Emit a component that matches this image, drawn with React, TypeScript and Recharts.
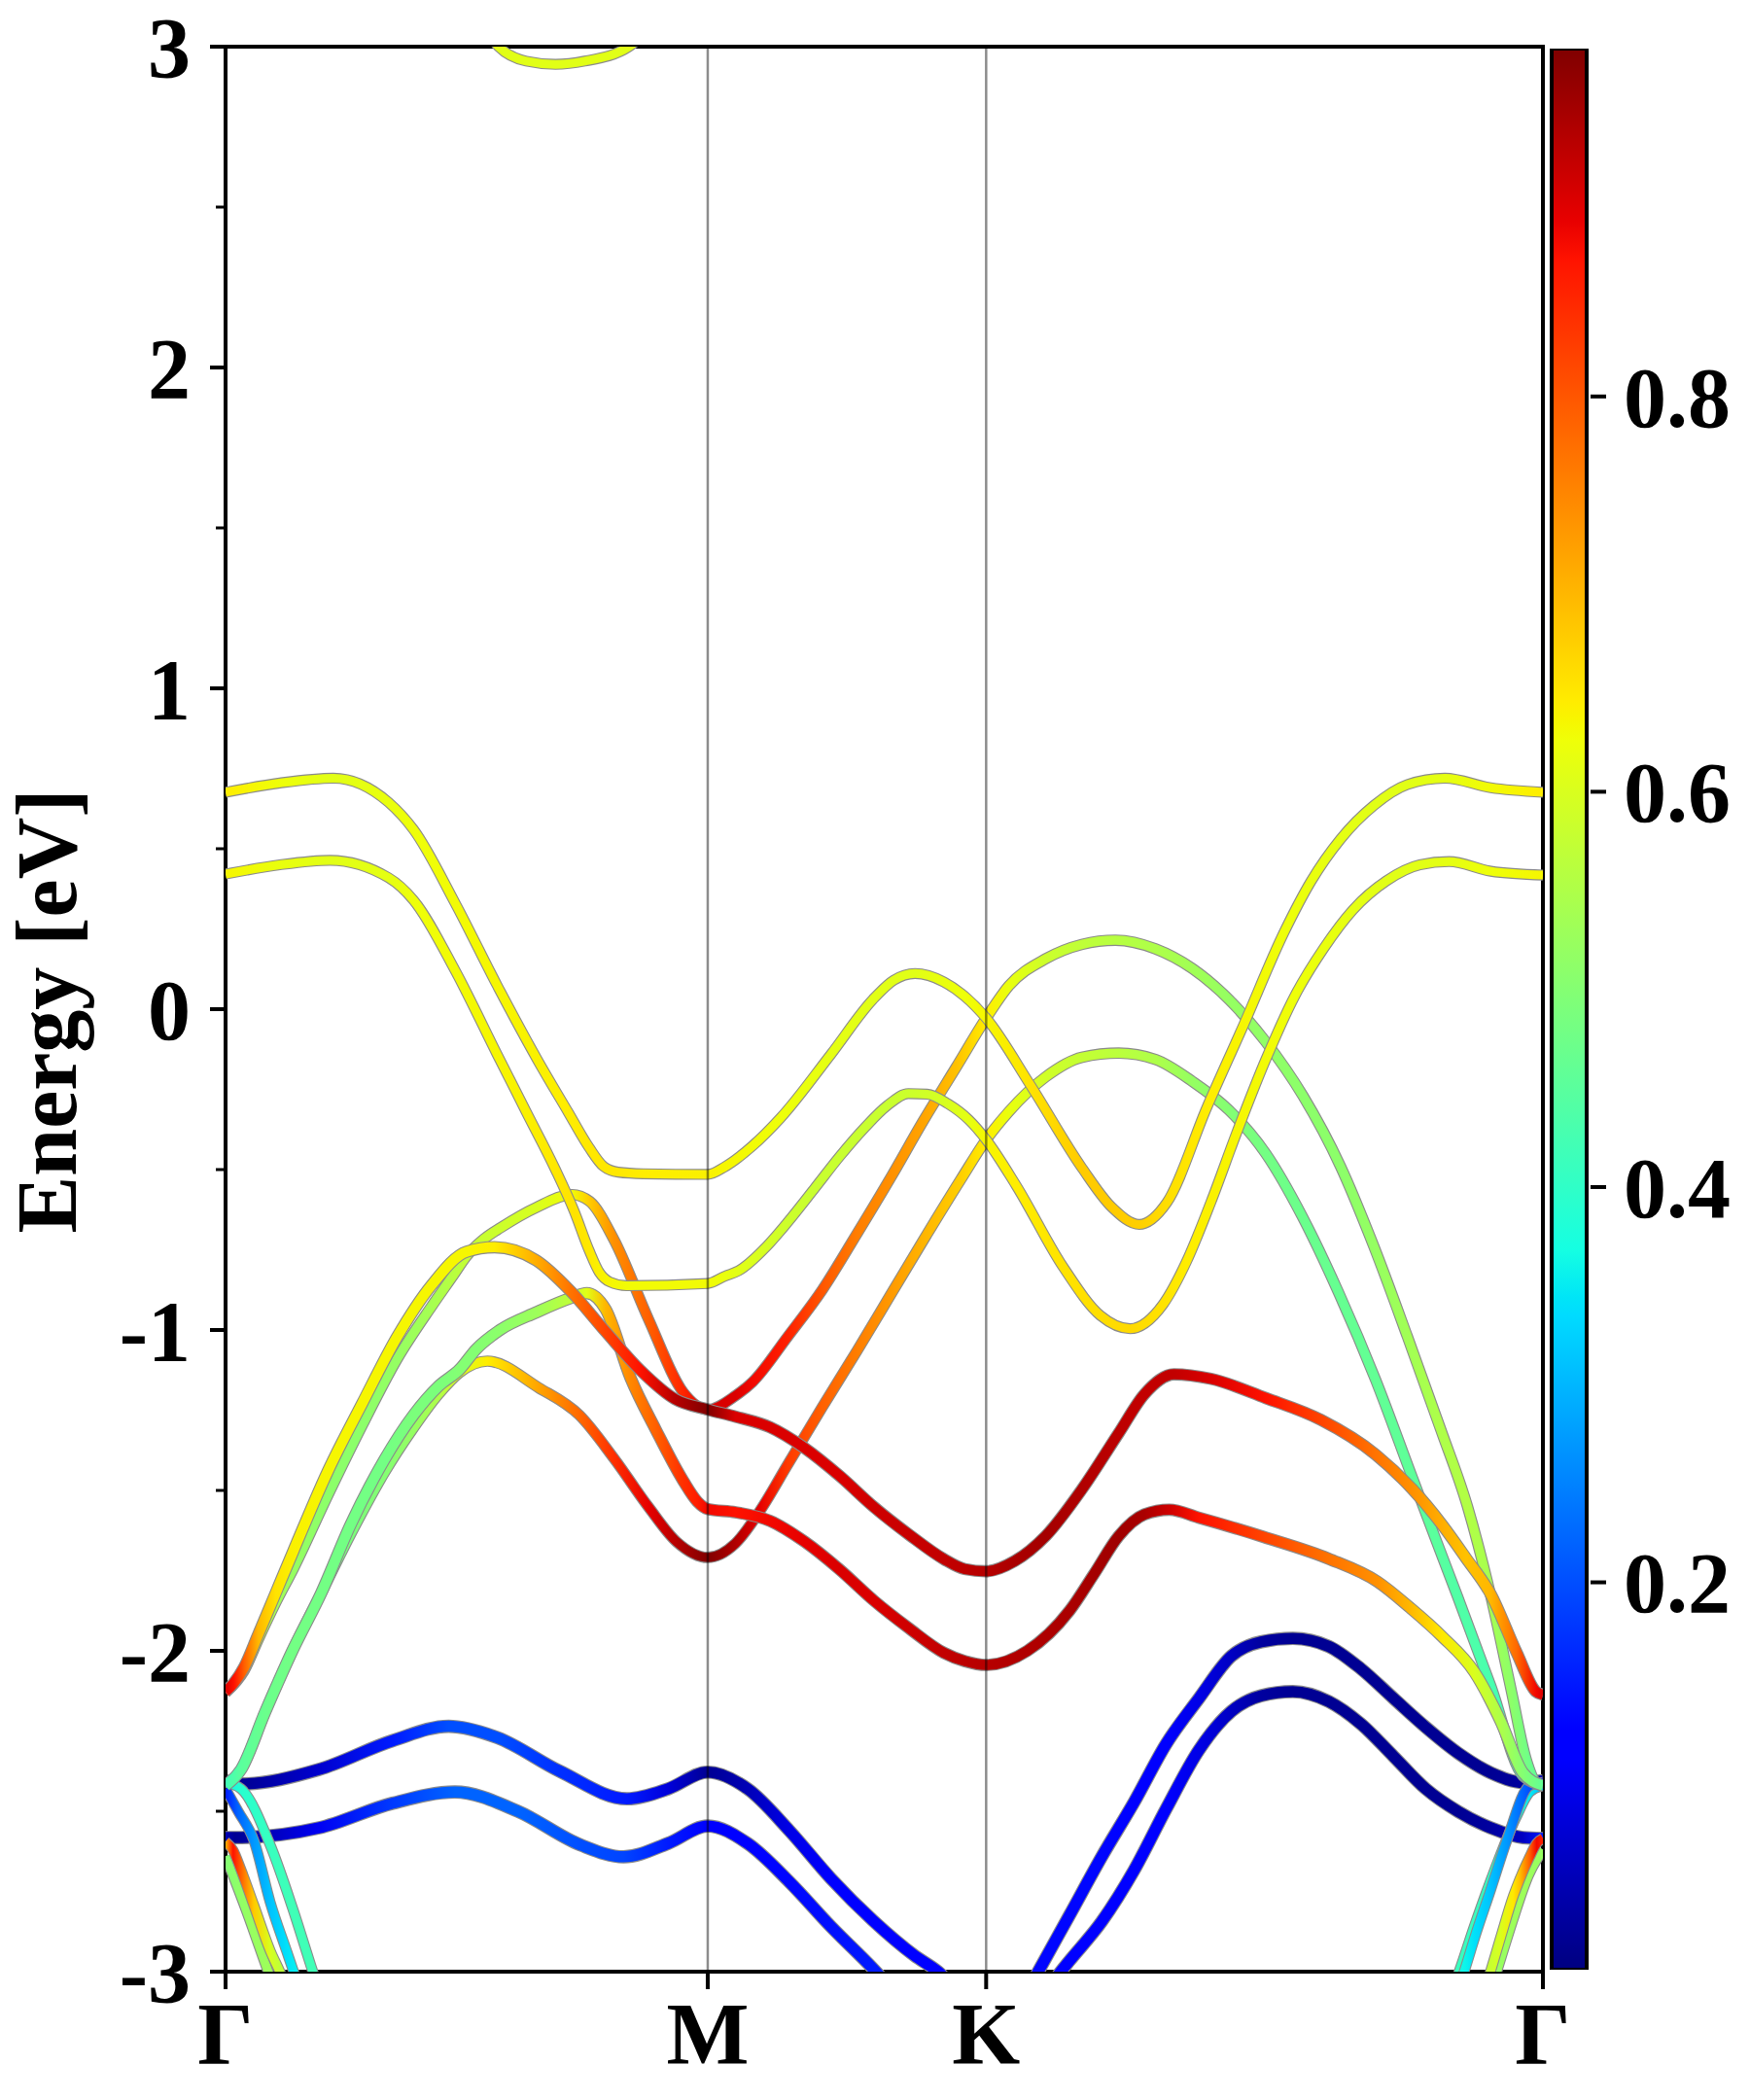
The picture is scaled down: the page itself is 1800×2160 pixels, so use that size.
import React from 'react';
import { LineChart, Line, XAxis, YAxis, ReferenceLine, ReferenceArea, BarChart, Bar } from 'recharts';

// ---------- axes / labels ----------
const K_M = 1.1547;
const K_K = 1.8214;
const K_END = 3.1547;
const xTickValues = [0, K_M, K_K, K_END];
const xTickLabels = ['Γ', 'M', 'K', 'Γ'];
const yTickValues = [-3, -2.5, -2, -1.5, -1, -0.5, 0, 0.5, 1, 1.5, 2, 2.5, 3];
const cbTickValues = [0.2, 0.4, 0.6, 0.8];
const W_MIN = 0.004;
const W_MAX = 0.976;

// ---------- bands: [k, energy (eV), weight] ----------
type Pt = [number, number, number];

const bandU0: Pt[] = [[0.58, 3.15, 0.61], [0.654, 3.0, 0.61], [0.72, 2.955, 0.61], [0.79, 2.945, 0.61], [0.86, 2.955, 0.61], [0.966, 3.0, 0.61], [1.05, 3.12, 0.61]];

const bandC1: Pt[] = [
  [0, 0.676, 0.645], [0.13, 0.705, 0.625], [0.258, 0.72, 0.61], [0.39, 0.645, 0.62], [0.45, 0.56, 0.625], [0.55, 0.33, 0.63], [0.65, 0.075, 0.635], [0.75, -0.165, 0.64], [0.82, -0.32, 0.645], [0.87, -0.43, 0.65], [0.905, -0.49, 0.65], [0.94, -0.508, 0.65], [1.0, -0.513, 0.645], [1.1547, -0.515, 0.64],
  [1.196, -0.491, 0.635], [1.262, -0.426, 0.63], [1.329, -0.339, 0.625], [1.45, -0.14, 0.615], [1.55, 0.03, 0.61], [1.6, 0.09, 0.61], [1.651, 0.111, 0.61], [1.72, 0.085, 0.62], [1.77, 0.04, 0.625], [1.8214, -0.028, 0.635],
  [1.928, -0.238, 0.655], [2.051, -0.495, 0.68], [2.122, -0.617, 0.68], [2.188, -0.671, 0.675], [2.254, -0.603, 0.66], [2.35, -0.306, 0.645], [2.438, -0.049, 0.635], [2.535, 0.24, 0.625], [2.6, 0.4, 0.62], [2.67, 0.53, 0.615], [2.75, 0.635, 0.61], [2.83, 0.7, 0.61], [2.92, 0.72, 0.615], [3.03, 0.69, 0.63], [3.1547, 0.676, 0.645],
];

const bandC2: Pt[] = [
  [0, 0.421, 0.635], [0.13, 0.45, 0.62], [0.25, 0.464, 0.61], [0.39, 0.41, 0.615], [0.45, 0.34, 0.625], [0.55, 0.12, 0.63], [0.65, -0.14, 0.635], [0.72, -0.32, 0.64], [0.79, -0.5, 0.65], [0.835, -0.63, 0.655], [0.87, -0.75, 0.65], [0.895, -0.82, 0.64], [0.92, -0.85, 0.635], [0.96, -0.862, 0.63], [1.1547, -0.855, 0.63],
  [1.196, -0.832, 0.62], [1.229, -0.815, 0.61], [1.296, -0.739, 0.595], [1.346, -0.664, 0.585], [1.412, -0.556, 0.58], [1.47, -0.46, 0.58], [1.53, -0.37, 0.58], [1.585, -0.3, 0.58], [1.635, -0.263, 0.585], [1.68, -0.265, 0.59], [1.73, -0.295, 0.6], [1.78, -0.345, 0.615], [1.8214, -0.407, 0.635],
  [1.893, -0.549, 0.645], [2.007, -0.806, 0.655], [2.095, -0.955, 0.66], [2.166, -0.996, 0.665], [2.245, -0.92, 0.655], [2.3, -0.79, 0.645], [2.36, -0.6, 0.64], [2.42, -0.39, 0.635], [2.49, -0.16, 0.63], [2.56, 0.04, 0.625], [2.63, 0.19, 0.62], [2.7, 0.31, 0.615], [2.78, 0.4, 0.61], [2.86, 0.45, 0.61], [2.93, 0.46, 0.615], [3.03, 0.43, 0.625], [3.1547, 0.418, 0.635],
];

const bandP1: Pt[] = [
  [0, -2.127, 0.9], [0.02, -2.1, 0.87], [0.045, -2.05, 0.79], [0.078, -1.95, 0.7], [0.12, -1.82, 0.655], [0.162, -1.69, 0.64], [0.245, -1.44, 0.635], [0.328, -1.227, 0.635], [0.411, -1.021, 0.635], [0.494, -0.859, 0.635], [0.577, -0.756, 0.635], [0.644, -0.742, 0.645], [0.744, -0.783, 0.71], [0.827, -0.88, 0.77], [0.91, -1.005, 0.82], [0.993, -1.125, 0.87], [1.076, -1.215, 0.93], [1.1547, -1.248, 0.975],
  [1.221, -1.27, 0.9], [1.304, -1.303, 0.9], [1.387, -1.368, 0.9], [1.47, -1.454, 0.9], [1.553, -1.552, 0.91], [1.637, -1.638, 0.915], [1.72, -1.714, 0.92], [1.77, -1.745, 0.925], [1.8214, -1.752, 0.93],
  [1.89, -1.72, 0.94], [1.964, -1.642, 0.945], [2.051, -1.496, 0.935], [2.139, -1.321, 0.925], [2.201, -1.199, 0.92], [2.271, -1.138, 0.92], [2.359, -1.152, 0.9], [2.491, -1.212, 0.87], [2.623, -1.28, 0.82], [2.754, -1.388, 0.77], [2.842, -1.496, 0.74], [2.912, -1.605, 0.71], [2.97, -1.71, 0.69], [3.03, -1.824, 0.7], [3.092, -2.006, 0.78], [3.138, -2.127, 0.88], [3.1547, -2.137, 0.9],
];

const bandP2: Pt[] = [
  [0, -2.13, 0.87], [0.045, -2.06, 0.72], [0.078, -1.965, 0.6], [0.12, -1.85, 0.54], [0.162, -1.745, 0.52], [0.245, -1.515, 0.51], [0.328, -1.295, 0.51], [0.411, -1.09, 0.52], [0.494, -0.925, 0.54], [0.545, -0.83, 0.56], [0.577, -0.77, 0.575], [0.62, -0.715, 0.58], [0.66, -0.68, 0.585], [0.744, -0.618, 0.6], [0.83, -0.578, 0.63], [0.872, -0.599, 0.68], [0.93, -0.718, 0.74], [1.013, -0.967, 0.79], [1.096, -1.194, 0.85], [1.1547, -1.248, 0.9],
  [1.221, -1.205, 0.9], [1.262, -1.162, 0.88], [1.346, -1.021, 0.855], [1.429, -0.875, 0.8], [1.512, -0.7, 0.76], [1.595, -0.52, 0.74], [1.67, -0.35, 0.72], [1.75, -0.18, 0.69], [1.8214, -0.028, 0.645],
  [1.876, 0.073, 0.62], [1.964, 0.157, 0.585], [2.051, 0.202, 0.57], [2.131, 0.215, 0.56], [2.227, 0.188, 0.55], [2.315, 0.127, 0.535], [2.403, 0.03, 0.52], [2.49, -0.1, 0.515], [2.58, -0.27, 0.51], [2.67, -0.49, 0.51], [2.75, -0.74, 0.52], [2.83, -1.02, 0.535], [2.91, -1.31, 0.55], [2.974, -1.55, 0.555], [3.03, -1.83, 0.54], [3.08, -2.13, 0.51], [3.115, -2.34, 0.48], [3.138, -2.41, 0.46], [3.1547, -2.42, 0.45],
];

const bandP3: Pt[] = [
  [0, -2.42, 0.42], [0.037, -2.37, 0.45], [0.095, -2.19, 0.47], [0.16, -2.0, 0.48], [0.229, -1.82, 0.48], [0.3, -1.635, 0.49], [0.38, -1.445, 0.5], [0.45, -1.305, 0.52], [0.51, -1.2, 0.55], [0.561, -1.132, 0.6], [0.627, -1.097, 0.645], [0.75, -1.18, 0.72], [0.847, -1.265, 0.78], [0.93, -1.4, 0.84], [1.013, -1.552, 0.89], [1.08, -1.66, 0.93], [1.1547, -1.709, 0.975],
  [1.221, -1.665, 0.935], [1.279, -1.565, 0.89], [1.346, -1.42, 0.83], [1.429, -1.24, 0.79], [1.512, -1.065, 0.76], [1.595, -0.885, 0.73], [1.678, -0.705, 0.7], [1.761, -0.53, 0.675], [1.8214, -0.407, 0.645],
  [1.876, -0.319, 0.62], [1.964, -0.211, 0.59], [2.051, -0.15, 0.575], [2.139, -0.137, 0.565], [2.227, -0.157, 0.55], [2.315, -0.225, 0.52], [2.403, -0.315, 0.5], [2.491, -0.45, 0.48], [2.578, -0.645, 0.47], [2.666, -0.885, 0.465], [2.754, -1.155, 0.46], [2.842, -1.46, 0.455], [2.895, -1.642, 0.45], [2.95, -1.83, 0.44], [3.03, -2.11, 0.43], [3.107, -2.39, 0.41], [3.1547, -2.42, 0.4],
];

const bandP4: Pt[] = [
  [0, -2.42, 0.42], [0.037, -2.37, 0.45], [0.095, -2.19, 0.47], [0.16, -2.0, 0.48], [0.229, -1.82, 0.48], [0.3, -1.605, 0.48], [0.38, -1.405, 0.48], [0.45, -1.265, 0.49], [0.51, -1.175, 0.49], [0.561, -1.122, 0.5], [0.6, -1.06, 0.5], [0.657, -1.0, 0.51], [0.744, -0.945, 0.53], [0.827, -0.9, 0.57], [0.865, -0.885, 0.61], [0.91, -0.935, 0.7], [0.97, -1.15, 0.75], [1.03, -1.31, 0.79], [1.096, -1.47, 0.84], [1.13, -1.535, 0.86], [1.1547, -1.558, 0.88],
  [1.221, -1.568, 0.87], [1.304, -1.595, 0.88], [1.387, -1.66, 0.89], [1.47, -1.746, 0.9], [1.553, -1.844, 0.9], [1.637, -1.93, 0.91], [1.72, -2.006, 0.92], [1.77, -2.032, 0.925], [1.8214, -2.044, 0.93],
  [1.92, -2.0, 0.935], [2.021, -1.875, 0.94], [2.08, -1.76, 0.945], [2.139, -1.642, 0.95], [2.2, -1.575, 0.94], [2.26, -1.56, 0.91], [2.331, -1.585, 0.87], [2.486, -1.645, 0.82], [2.642, -1.713, 0.77], [2.758, -1.784, 0.74], [2.836, -1.865, 0.7], [2.913, -1.955, 0.65], [2.991, -2.067, 0.6], [3.053, -2.218, 0.55], [3.107, -2.38, 0.5], [3.1547, -2.42, 0.46],
];

const bandBU1: Pt[] = [[0, -2.405, 0.02], [0.037, -2.415, 0.02], [0.223, -2.37, 0.07], [0.4, -2.28, 0.15], [0.534, -2.235, 0.2], [0.65, -2.27, 0.2], [0.8, -2.375, 0.17], [0.961, -2.461, 0.15], [1.06, -2.43, 0.08], [1.1547, -2.378, 0.02], [1.25, -2.43, 0.05], [1.35, -2.56, 0.09], [1.45, -2.71, 0.11], [1.55, -2.84, 0.12], [1.65, -2.95, 0.12], [1.706, -3.0, 0.12], [1.76, -3.07, 0.12]];
const bandBL1: Pt[] = [[0, -2.582, 0.05], [0.022, -2.582, 0.02], [0.223, -2.552, 0.1], [0.4, -2.475, 0.18], [0.549, -2.44, 0.22], [0.7, -2.5, 0.22], [0.85, -2.605, 0.2], [0.953, -2.642, 0.19], [1.06, -2.6, 0.15], [1.1547, -2.546, 0.12], [1.25, -2.6, 0.12], [1.35, -2.72, 0.13], [1.45, -2.86, 0.14], [1.55, -2.99, 0.15], [1.6, -3.06, 0.15]];
const bandBU2: Pt[] = [[1.88, -3.16, 0.13], [1.946, -3.0, 0.13], [2.021, -2.824, 0.13], [2.098, -2.642, 0.13], [2.176, -2.471, 0.12], [2.253, -2.289, 0.11], [2.331, -2.148, 0.09], [2.409, -2.016, 0.06], [2.48, -1.972, 0.03], [2.556, -1.961, 0.02], [2.642, -1.986, 0.02], [2.719, -2.056, 0.02], [2.797, -2.148, 0.02], [2.874, -2.238, 0.02], [2.952, -2.319, 0.02], [3.03, -2.38, 0.02], [3.107, -2.41, 0.03], [3.1547, -2.405, 0.05]];
const bandBL2: Pt[] = [[1.92, -3.15, 0.12], [2.0, -3.0, 0.12], [2.021, -2.966, 0.12], [2.098, -2.844, 0.12], [2.176, -2.683, 0.12], [2.253, -2.491, 0.11], [2.331, -2.309, 0.09], [2.409, -2.188, 0.06], [2.48, -2.14, 0.03], [2.556, -2.127, 0.02], [2.642, -2.158, 0.02], [2.719, -2.228, 0.02], [2.797, -2.329, 0.02], [2.874, -2.43, 0.02], [2.952, -2.501, 0.02], [3.03, -2.552, 0.03], [3.107, -2.582, 0.06], [3.1547, -2.585, 0.15]];

const bandD1: Pt[] = [[0, -2.595, 0.7], [0.018, -2.622, 0.87], [0.037, -2.683, 0.79], [0.068, -2.794, 0.68], [0.107, -2.935, 0.6], [0.13, -3.0, 0.57], [0.17, -3.13, 0.56]];
const bandD2: Pt[] = [[0, -2.64, 0.5], [0.05, -2.81, 0.52], [0.102, -3.0, 0.53], [0.13, -3.1, 0.53]];
const bandD3: Pt[] = [[0, -2.43, 0.15], [0.03, -2.5, 0.22], [0.068, -2.592, 0.27], [0.107, -2.784, 0.31], [0.146, -2.935, 0.34], [0.163, -3.0, 0.35], [0.2, -3.15, 0.36]];
const bandD4: Pt[] = [[0, -2.41, 0.36], [0.037, -2.43, 0.39], [0.109, -2.612, 0.41], [0.16, -2.8, 0.42], [0.209, -3.0, 0.42], [0.24, -3.12, 0.42]];
const bandD1r: Pt[] = [[3.0, -3.12, 0.57], [3.03, -2.996, 0.58], [3.053, -2.895, 0.6], [3.084, -2.764, 0.65], [3.099, -2.713, 0.69], [3.123, -2.642, 0.79], [3.14, -2.6, 0.88], [3.1547, -2.585, 0.85]];
const bandD2r: Pt[] = [[3.015, -3.12, 0.52], [3.045, -2.996, 0.52], [3.08, -2.85, 0.53], [3.12, -2.7, 0.53], [3.1547, -2.62, 0.52]];
const bandD3r: Pt[] = [[2.94, -3.1, 0.37], [2.967, -2.996, 0.36], [2.991, -2.895, 0.34], [3.03, -2.743, 0.31], [3.068, -2.592, 0.27], [3.123, -2.42, 0.2], [3.1547, -2.41, 0.15]];
const bandD4r: Pt[] = [[2.925, -3.1, 0.42], [2.955, -2.996, 0.41], [2.99, -2.86, 0.41], [3.04, -2.68, 0.4], [3.09, -2.52, 0.38], [3.123, -2.44, 0.35], [3.1547, -2.42, 0.3]];

// drawing order and line widths (style)
const bandStyles: { id: string; pts: Pt[]; width: number }[] = [
  { id: 'bu1', pts: bandBU1, width: 11.5 },
  { id: 'bl1', pts: bandBL1, width: 11.5 },
  { id: 'bu2', pts: bandBU2, width: 11.5 },
  { id: 'bl2', pts: bandBL2, width: 11.5 },
  { id: 'd2', pts: bandD2, width: 9 },
  { id: 'd1', pts: bandD1, width: 9 },
  { id: 'd4', pts: bandD4, width: 9 },
  { id: 'd3', pts: bandD3, width: 9 },
  { id: 'd2r', pts: bandD2r, width: 9 },
  { id: 'd1r', pts: bandD1r, width: 9 },
  { id: 'd4r', pts: bandD4r, width: 9 },
  { id: 'd3r', pts: bandD3r, width: 9 },
  { id: 'p3', pts: bandP3, width: 9.5 },
  { id: 'p2', pts: bandP2, width: 9.5 },
  { id: 'p4', pts: bandP4, width: 10.5 },
  { id: 'p1', pts: bandP1, width: 10.5 },
  { id: 'c2', pts: bandC2, width: 9 },
  { id: 'c1', pts: bandC1, width: 9 },
  { id: 'u0', pts: bandU0, width: 9 },
];

// ---------- matplotlib "jet" colormap ----------
const JET_R: [number, number][] = [[0, 0], [0.35, 0], [0.66, 1], [0.89, 1], [1, 0.5]];
const JET_G: [number, number][] = [[0, 0], [0.125, 0], [0.375, 1], [0.64, 1], [0.91, 0], [1, 0]];
const JET_B: [number, number][] = [[0, 0.5], [0.11, 1], [0.34, 1], [0.65, 0], [1, 0]];
const JET_BREAKS = [0, 0.11, 0.125, 0.34, 0.35, 0.375, 0.64, 0.65, 0.66, 0.89, 0.91, 1];

function seg(s: [number, number][], t: number) {
  for (let i = 1; i < s.length; i++) {
    if (t <= s[i][0]) {
      const [t0, v0] = s[i - 1];
      const [t1, v1] = s[i];
      return v0 + ((v1 - v0) * (t - t0)) / (t1 - t0 || 1);
    }
  }
  return s[s.length - 1][1];
}
function jet(t: number) {
  const c = Math.max(0, Math.min(1, t));
  const r = Math.round(255 * seg(JET_R, c));
  const g = Math.round(255 * seg(JET_G, c));
  const b = Math.round(255 * seg(JET_B, c));
  return `rgb(${r},${g},${b})`;
}
const wColor = (w: number) => jet((w - W_MIN) / (W_MAX - W_MIN));

const FONT = "'Liberation Serif', 'Times New Roman', serif";

const XTick = (props: any) => {
  const { x, y, index } = props;
  return (
    <g>
      <line x1={x} x2={x} y1={y} y2={y + 18} stroke="#000" strokeWidth={4} />
      <text x={x} y={y + 95} textAnchor="middle" fontFamily={FONT} fontWeight={700} fontSize={90} fill="#000">
        {xTickLabels[index]}
      </text>
    </g>
  );
};

const YTick = (props: any) => {
  const { x, y, payload } = props;
  const v = payload.value as number;
  const major = Math.abs(v - Math.round(v)) < 1e-6;
  return (
    <g>
      <line x1={x - (major ? 16 : 10)} x2={x} y1={y} y2={y} stroke="#000" strokeWidth={major ? 4 : 3} />
      {major && (
        <text x={x - 36} y={y} dy="0.35em" textAnchor="end" fontFamily={FONT} fontWeight={700} fontSize={88} fill="#000">
          {String(v)}
        </text>
      )}
    </g>
  );
};

const CbTick = (props: any) => {
  const { x, y, payload } = props;
  return (
    <g>
      <line x1={x + 2} x2={x + 18} y1={y} y2={y} stroke="#000" strokeWidth={4} />
      <text x={x + 36} y={y} dy="0.35em" textAnchor="start" fontFamily={FONT} fontWeight={700} fontSize={88} fill="#000">
        {payload.value.toFixed(1)}
      </text>
    </g>
  );
};

const cbData = [{ name: 'cb', range: [W_MIN, W_MAX] }];

export default function App() {
  return (
    <div style={{ position: 'absolute', left: 0, top: 0, width: 1800, height: 2160, background: '#fff' }}>
      <div style={{ position: 'absolute', left: 0, top: 0 }}>
        <LineChart width={1800} height={2160} margin={{ top: 48, right: 213, bottom: 0, left: 0 }}>
          <defs>
            {bandStyles.map((b) => {
              const k0 = b.pts[0][0];
              const k1 = b.pts[b.pts.length - 1][0];
              return (
                <linearGradient key={b.id} id={`g-${b.id}`} x1="0" y1="0" x2="1" y2="0">
                  {b.pts.map((p, i) => (
                    <stop key={i} offset={(p[0] - k0) / (k1 - k0)} stopColor={wColor(p[2])} />
                  ))}
                </linearGradient>
              );
            })}
          </defs>
          <XAxis
            type="number"
            dataKey="k"
            domain={[0, K_END]}
            allowDataOverflow
            ticks={xTickValues}
            interval={0}
            tickLine={false}
            axisLine={false}
            tickSize={0}
            tickMargin={0}
            height={132}
            tick={XTick}
          />
          <YAxis
            type="number"
            domain={[-3, 3]}
            allowDataOverflow
            ticks={yTickValues}
            interval={0}
            width={232}
            tickLine={false}
            axisLine={false}
            tickSize={0}
            tickMargin={0}
            tick={YTick}
          />
          {bandStyles.flatMap((b) => {
            const data = b.pts.map(([k, e]) => ({ k, e }));
            return [
              <Line key={`${b.id}-o`} data={data} dataKey="e" type="monotone" stroke="#8a8a8a" strokeWidth={b.width + 2.2} dot={false} activeDot={false} isAnimationActive={false} strokeLinejoin="round" />,
              <Line key={`${b.id}-c`} data={data} dataKey="e" type="monotone" stroke={`url(#g-${b.id})`} strokeWidth={b.width} dot={false} activeDot={false} isAnimationActive={false} strokeLinejoin="round" />,
            ];
          })}
          <ReferenceLine x={K_M} stroke="#000" strokeOpacity={0.45} strokeWidth={2.5} />
          <ReferenceLine x={K_K} stroke="#000" strokeOpacity={0.45} strokeWidth={2.5} />
          <ReferenceArea x1={0} x2={K_END} y1={-3} y2={3} fill="none" fillOpacity={0} stroke="#000" strokeWidth={4} />
          <text transform="translate(78,1040) rotate(-90)" textAnchor="middle" fontFamily={FONT} fontWeight={700} fontSize={88} fill="#000">
            Energy [eV]
          </text>
        </LineChart>
      </div>
      <div style={{ position: 'absolute', left: 1594, top: 0 }}>
        <BarChart width={206} height={2160} data={cbData} margin={{ top: 50, right: 0, bottom: 134, left: 0 }} barCategoryGap={0}>
          <defs>
            <linearGradient id="cbg" x1="0" y1="1" x2="0" y2="0">
              {JET_BREAKS.map((t, i) => (
                <stop key={i} offset={t} stopColor={jet(t)} />
              ))}
            </linearGradient>
          </defs>
          <XAxis dataKey="name" type="category" hide />
          <YAxis
            orientation="right"
            type="number"
            domain={[W_MIN, W_MAX]}
            allowDataOverflow
            ticks={cbTickValues}
            interval={0}
            width={166}
            axisLine={false}
            tickLine={false}
            tickSize={0}
            tickMargin={0}
            tick={CbTick}
          />
          <Bar dataKey="range" fill="url(#cbg)" stroke="#000" strokeWidth={4} barSize={40} isAnimationActive={false} />
        </BarChart>
      </div>
    </div>
  );
}
